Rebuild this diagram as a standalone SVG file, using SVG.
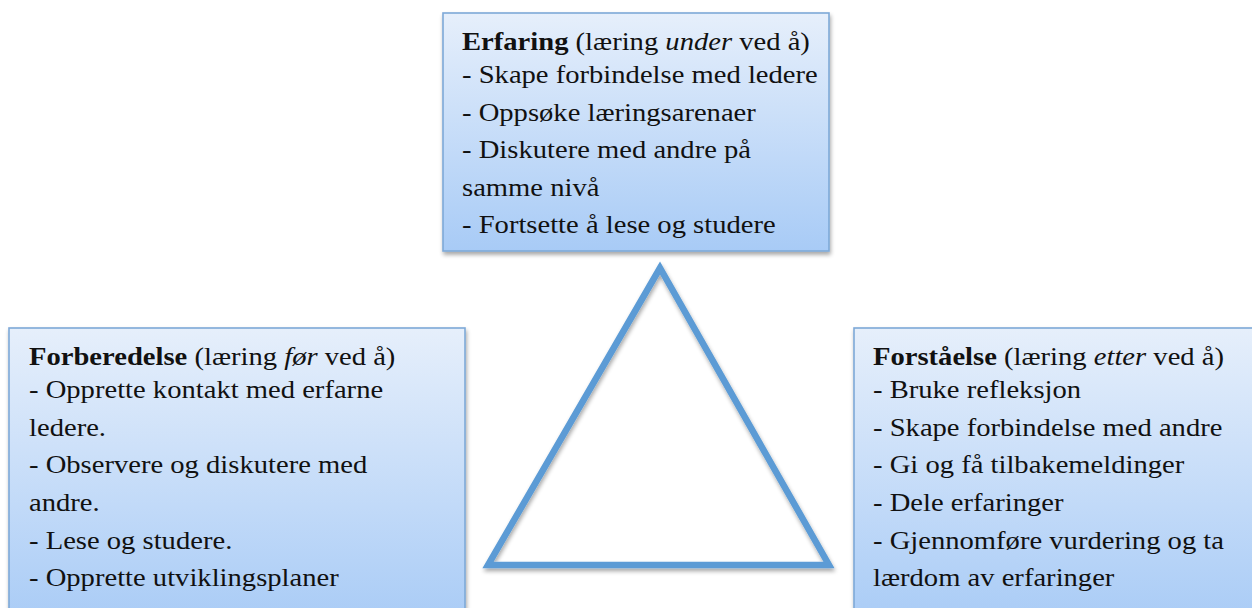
<svg xmlns="http://www.w3.org/2000/svg" width="1252" height="608" viewBox="0 0 1252 608">
  <defs>
    <linearGradient id="boxFill" x1="0" y1="0" x2="0" y2="1">
      <stop offset="0" stop-color="#e6effb"/>
      <stop offset="1" stop-color="#a8cbf6"/>
    </linearGradient>
    <filter id="softShadow" x="-5%" y="-5%" width="115%" height="120%">
      <feGaussianBlur in="SourceAlpha" stdDeviation="2"/>
      <feOffset dx="1" dy="3" result="b"/>
      <feComponentTransfer><feFuncA type="linear" slope="0.35"/></feComponentTransfer>
      <feMerge><feMergeNode/><feMergeNode in="SourceGraphic"/></feMerge>
    </filter>
    <style>
      .box { fill: url(#boxFill); stroke: #7ea9d8; stroke-width: 1.6; filter: url(#softShadow); }
      .txt { font-family: "Liberation Serif", "Times New Roman", serif; font-size: 26px; fill: #111; }
      .b { font-weight: bold; }
      .i { font-style: italic; }
      .tri { fill: none; stroke: #5b9bd5; stroke-width: 6.5; stroke-linejoin: miter; filter: url(#softShadow); }
    </style>
  </defs>

  <rect width="1252" height="608" fill="#ffffff"/>

  <!-- learning cycle triangle -->
  <g id="connectors">
    <polygon class="tri" points="660,268 488,565 829,565"/>
  </g>

  <!-- top: Erfaring -->
  <g id="node-erfaring">
    <rect class="box" x="443" y="13" width="386" height="238"/>
    <g class="txt" transform="translate(462,0) scale(1.1,1)">
      <text x="0" y="50"><tspan class="b">Erfaring</tspan> (læring <tspan class="i">under</tspan> ved å)</text>
      <text x="0" y="83">- Skape forbindelse med ledere</text>
      <text x="0" y="121">- Oppsøke læringsarenaer</text>
      <text x="0" y="158">- Diskutere med andre på</text>
      <text x="0" y="196">samme nivå</text>
      <text x="0" y="233">- Fortsette å lese og studere</text>
    </g>
  </g>

  <!-- left: Forberedelse -->
  <g id="node-forberedelse">
    <rect class="box" x="9" y="328" width="456" height="300"/>
    <g class="txt" transform="translate(29,0) scale(1.1,1)">
      <text x="0" y="365"><tspan class="b">Forberedelse</tspan> (læring <tspan class="i">før</tspan> ved å)</text>
      <text x="0" y="398">- Opprette kontakt med erfarne</text>
      <text x="0" y="436">ledere.</text>
      <text x="0" y="473">- Observere og diskutere med</text>
      <text x="0" y="511">andre.</text>
      <text x="0" y="549">- Lese og studere.</text>
      <text x="0" y="586">- Opprette utviklingsplaner</text>
    </g>
  </g>

  <!-- right: Forståelse -->
  <g id="node-forstaelse">
    <rect class="box" x="854" y="328" width="410" height="300"/>
    <g class="txt" transform="translate(873,0) scale(1.1,1)">
      <text x="0" y="365"><tspan class="b">Forståelse</tspan> (læring <tspan class="i">etter</tspan> ved å)</text>
      <text x="0" y="398">- Bruke refleksjon</text>
      <text x="0" y="436">- Skape forbindelse med andre</text>
      <text x="0" y="473">- Gi og få tilbakemeldinger</text>
      <text x="0" y="511">- Dele erfaringer</text>
      <text x="0" y="549">- Gjennomføre vurdering og ta</text>
      <text x="0" y="586">lærdom av erfaringer</text>
    </g>
  </g>
</svg>
